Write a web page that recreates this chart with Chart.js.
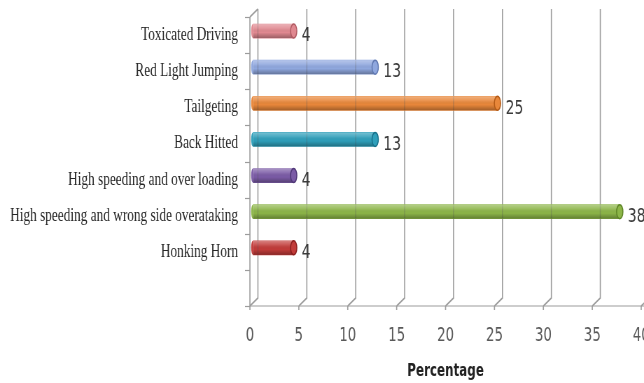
<!DOCTYPE html>
<html>
<head>
<meta charset="utf-8">
<script src="https://cdn.jsdelivr.net/npm/chart.js@4.4.1/dist/chart.umd.min.js"></script>
<style>
html,body{margin:0;padding:0;background:#fff;overflow:hidden;}
#wrap{width:644px;height:383px;overflow:hidden;position:relative;}
#inner{width:920px;height:383px;transform:scaleX(0.7);transform-origin:0 0;}
canvas{display:block;}
</style>
</head>
<body>
<div id="wrap"><div id="inner"><canvas id="c" width="920" height="383"></canvas></div></div>
<script>
// ---- data ----
const categories = [
  "Toxicated Driving",
  "Red Light Jumping",
  "Tailgeting",
  "Back Hitted",
  "High speeding and over loading",
  "High speeding and wrong side overataking",
  "Honking Horn",
  ""
];
const percentages = [4.17, 12.5, 25, 12.5, 4.17, 37.5, 4.17, null];
const barColors = ["#e08890", "#8fa7de", "#e8873a", "#2f9fba", "#7b5ba6", "#8cb548", "#c23c3a", "#ffffff"];
const capColors = ["#b05a62", "#5f77b0", "#b35a16", "#17708a", "#4f3777", "#5e8526", "#8c1f1e", "#ffffff"];
const xTicks = [0, 5, 10, 15, 20, 25, 30, 35, 40];
const xTitle = "Percentage";

// ---- geometry helpers (canvas is squeezed horizontally by SX) ----
const SX = 0.7;
const BACK_DX = 8 / SX, BACK_DY = -8;
const BAR_DX = 3 / SX, BAR_DY = -4;

function noPad(scale) {
  scale.paddingLeft = 0; scale.paddingRight = 0;
  scale.paddingTop = 0; scale.paddingBottom = 0;
}

const wall = {
  id: 'wall',
  beforeDatasetsDraw(chart) {
    const {ctx, chartArea: a, scales: {x}} = chart;
    ctx.save();
    ctx.strokeStyle = '#9c9c9c';
    xTicks.forEach(v => {
      const px = x.getPixelForValue(v);
      ctx.lineWidth = 1.6;
      ctx.beginPath();
      ctx.moveTo(px, a.bottom);
      ctx.lineTo(px + BACK_DX, a.bottom + BACK_DY);
      ctx.lineTo(px + BACK_DX, a.top + BACK_DY);
      ctx.stroke();
      ctx.beginPath();
      ctx.moveTo(px, a.bottom);
      ctx.lineTo(px, a.bottom + 4);
      ctx.stroke();
    });
    ctx.lineWidth = 1.6;
    ctx.beginPath();
    ctx.moveTo(a.left, a.top);
    ctx.lineTo(a.left + BACK_DX, a.top + BACK_DY);
    ctx.stroke();
    ctx.beginPath();
    ctx.moveTo(a.left, a.top);
    ctx.lineTo(a.left, a.bottom);
    ctx.stroke();
    ctx.lineWidth = 1.2;
    ctx.beginPath();
    ctx.moveTo(a.left, a.bottom);
    ctx.lineTo(chart.width, a.bottom);
    ctx.stroke();
    const n = categories.length;
    const step = (a.bottom - a.top) / n;
    for (let i = 0; i <= n; i++) {
      const yy = Math.round(a.top + i * step) + 0.5;
      ctx.beginPath();
      ctx.moveTo(a.left - 7, yy);
      ctx.lineTo(a.left, yy);
      ctx.stroke();
    }
    ctx.restore();
    ctx.save();
    ctx.translate(BAR_DX, BAR_DY);
  },
  afterDatasetsDraw(chart) {
    const {ctx, scales: {x}} = chart;
    const meta = chart.getDatasetMeta(0);
    meta.data.forEach((el, i) => {
      if (percentages[i] == null) return;
      const {x: ex, y: ey, base, height} = el.getProps(['x', 'y', 'base', 'height'], true);
      const top = ey - height / 2, bot = ey + height / 2;
      // faint back gridlines showing through
      ctx.save();
      ctx.beginPath();
      ctx.rect(base, top, ex - base, height);
      ctx.clip();
      ctx.strokeStyle = 'rgba(90,90,90,0.3)';
      ctx.lineWidth = 1.5;
      xTicks.forEach(v => {
        const px = x.getPixelForValue(v) + BACK_DX - BAR_DX;
        ctx.beginPath();
        ctx.moveTo(px, top);
        ctx.lineTo(px, bot);
        ctx.stroke();
      });
      ctx.restore();
      // cylinder shading
      const g = ctx.createLinearGradient(0, top, 0, bot);
      g.addColorStop(0, 'rgba(255,255,255,0.35)');
      g.addColorStop(0.3, 'rgba(255,255,255,0.12)');
      g.addColorStop(0.6, 'rgba(0,0,0,0)');
      g.addColorStop(1, 'rgba(0,0,0,0.3)');
      ctx.fillStyle = g;
      ctx.fillRect(base, top, ex - base, height);
      // left rounded end
      ctx.beginPath();
      ctx.ellipse(base, ey, 2.5, height / 2, 0, Math.PI / 2, Math.PI * 1.5);
      ctx.fillStyle = barColors[i];
      ctx.fill();
      // right end cap
      ctx.beginPath();
      ctx.ellipse(ex, ey, 4.5, height / 2, 0, 0, Math.PI * 2);
      ctx.fillStyle = barColors[i];
      ctx.fill();
      ctx.strokeStyle = capColors[i];
      ctx.lineWidth = 1.5;
      ctx.stroke();
    });
    ctx.restore();
    // data labels
    ctx.save();
    ctx.font = '20px "DejaVu Sans"';
    ctx.fillStyle = '#3a3a3a';
    ctx.textAlign = 'left';
    ctx.textBaseline = 'middle';
    meta.data.forEach((el, i) => {
      const v = percentages[i];
      if (v == null) return;
      const {x: ex, y: ey} = el.getProps(['x', 'y'], true);
      ctx.fillText(String(Math.round(v)), ex + BAR_DX + 4.5 + 7, ey + 1);
    });
    ctx.restore();
  }
};

new Chart(document.getElementById('c'), {
  type: 'bar',
  data: {
    labels: categories,
    datasets: [{
      data: percentages,
      backgroundColor: barColors,
      borderWidth: 0,
      barThickness: 14
    }]
  },
  options: {
    indexAxis: 'y',
    responsive: false,
    animation: false,
    devicePixelRatio: 1,
    layout: {autoPadding: false, padding: {top: 17, right: 4, left: 0, bottom: 0}},
    plugins: {legend: {display: false}, tooltip: {enabled: false}},
    scales: {
      x: {
        type: 'linear',
        position: 'bottom',
        min: 0, max: 40,
        afterBuildTicks(scale) { scale.ticks = xTicks.map(v => ({value: v})); },
        afterFit(scale) { scale.height = 77; noPad(scale); },
        grid: {display: false, drawTicks: false},
        border: {display: false},
        ticks: {
          padding: 19,
          color: '#595959',
          font: {family: 'DejaVu Sans', size: 19},
          maxRotation: 0
        },
        title: {
          display: true,
          text: xTitle,
          color: '#222222',
          font: {family: 'DejaVu Sans', size: 17, weight: 'bold'},
          padding: {top: 0, bottom: 1}
        }
      },
      y: {
        type: 'category',
        afterFit(scale) { scale.width = 357; noPad(scale); },
        grid: {display: false, drawTicks: false},
        border: {display: false},
        ticks: {
          padding: 17,
          color: '#262626',
          font: {family: 'Liberation Serif', size: 19},
          autoSkip: false
        }
      }
    }
  },
  plugins: [wall]
});
</script>
</body>
</html>
